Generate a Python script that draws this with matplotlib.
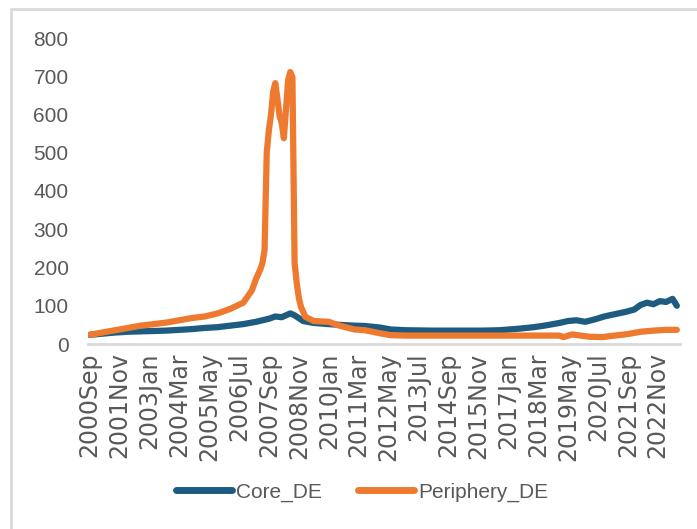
import matplotlib
matplotlib.use("Agg")
import matplotlib.pyplot as plt
import matplotlib.dates as mdates
from matplotlib.patches import Rectangle
import pandas as pd

# values (monthly, approximate)
core_dates = ["2000-09", "2001-03", "2001-09", "2002-03", "2002-09", "2003-03", "2003-09",
              "2004-03", "2004-09", "2005-03", "2005-09", "2006-03", "2006-09", "2007-03",
              "2007-09", "2007-12", "2008-03", "2008-07", "2008-09", "2009-01", "2009-06",
              "2010-01", "2010-06", "2011-01", "2011-06", "2012-01", "2012-06", "2013-01",
              "2014-01", "2015-01", "2016-01", "2016-09", "2017-06", "2018-01", "2018-06",
              "2019-01", "2019-05", "2019-09", "2020-01", "2020-06", "2020-10", "2021-03",
              "2021-08", "2021-12", "2022-03", "2022-06", "2022-09", "2022-12", "2023-03",
              "2023-06", "2023-08"]
core_vals = [24, 27, 30, 32, 33, 34, 35,
             37, 39, 42, 44, 48, 52, 58,
             66, 72, 70, 80, 75, 60, 55,
             52, 50, 48, 47, 43, 38, 36,
             35, 35, 35, 36, 40, 44, 48,
             55, 60, 62, 58, 65, 72, 78,
             84, 90, 102, 108, 104, 112, 110,
             118, 100]

periph_dates = ["2000-09", "2001-03", "2001-09", "2002-03", "2002-09", "2003-03", "2003-09",
                "2004-03", "2004-09", "2005-03", "2005-09", "2006-03", "2006-09", "2007-01",
                "2007-03", "2007-05", "2007-06", "2007-07", "2007-08", "2007-09", "2007-10",
                "2007-11", "2007-12", "2008-01", "2008-02", "2008-03", "2008-04", "2008-05",
                "2008-06", "2008-07", "2008-08", "2008-09", "2008-10", "2008-11", "2008-12",
                "2009-02", "2009-06", "2010-01", "2010-06", "2011-01", "2011-06", "2012-01",
                "2012-06", "2013-01", "2014-06", "2016-01", "2017-06", "2019-01", "2019-03",
                "2019-07", "2019-11", "2020-03", "2020-09", "2021-03", "2021-09", "2022-03",
                "2022-09", "2023-03", "2023-08"]
periph_vals = [24, 30, 36, 42, 48, 52, 56,
               62, 68, 72, 80, 92, 108, 140,
               170, 195, 212, 246, 500, 560, 600,
               660, 682, 640, 595, 578, 538, 612,
               690, 711, 698, 212, 160, 120, 97,
               71, 60, 58, 48, 38, 36, 28,
               23, 22, 22, 22, 22, 22, 18,
               25, 22, 19, 18, 22, 26, 32,
               35, 37, 37]

tick_labels = ["2000Sep", "2001Nov", "2003Jan", "2004Mar", "2005May", "2006Jul", "2007Sep",
               "2008Nov", "2010Jan", "2011Mar", "2012May", "2013Jul", "2014Sep", "2015Nov",
               "2017Jan", "2018Mar", "2019May", "2020Jul", "2021Sep", "2022Nov"]
y_ticks = [0, 100, 200, 300, 400, 500, 600, 700, 800]

CORE_COLOR = "#1D5C80"
PERIPH_COLOR = "#EE7A30"
TEXT_COLOR = "#595959"

plt.rcParams["font.family"] = ["Liberation Sans", "DejaVu Sans"]

fig = plt.figure(figsize=(6.97, 5.29), dpi=100)
fig.patch.set_facecolor("white")
# light frame of the original chart area (cropped at right and bottom)
fig.add_artist(Rectangle((11 / 697, -0.1), 1.2, 1 - 9 / 529 + 0.1, transform=fig.transFigure,
                         fill=False, edgecolor="#d9d9d9", linewidth=2))

ax = fig.add_axes([88 / 697, 1 - 344 / 529, (680 - 88) / 697, (344 - 38) / 529])

core_x = pd.to_datetime(core_dates, format="%Y-%m")
periph_x = pd.to_datetime(periph_dates, format="%Y-%m")
ax.plot(core_x, core_vals, color=CORE_COLOR, lw=4.5, solid_capstyle="round",
        solid_joinstyle="round", label="Core_DE")
ax.plot(periph_x, periph_vals, color=PERIPH_COLOR, lw=4.5, solid_capstyle="round",
        solid_joinstyle="round", label="Periphery_DE")

ax.set_ylim(0, 800)
ax.set_yticks(y_ticks)
ax.set_xlim(pd.Timestamp("2000-08-10"), pd.Timestamp("2023-09-15"))
tick_pos = pd.to_datetime(tick_labels, format="%Y%b")
ax.set_xticks(mdates.date2num(tick_pos))
ax.set_xticklabels(tick_labels, rotation=90, fontsize=17, color=TEXT_COLOR,
                   family=["DejaVu Sans"])
ax.tick_params(axis="y", labelsize=15, labelcolor=TEXT_COLOR, length=0, pad=14)
ax.tick_params(axis="x", length=0, pad=6)

for s in ["top", "right", "left"]:
    ax.spines[s].set_visible(False)
ax.spines["bottom"].set_color("#d9d9d9")
ax.spines["bottom"].set_linewidth(2)

fig.legend(loc="center", bbox_to_anchor=(362 / 697, 1 - 492 / 529), ncol=2, frameon=False,
           fontsize=15, handlelength=2.7, handletextpad=0.2, columnspacing=1.7,
           labelcolor=TEXT_COLOR)
for line in fig.legends[0].get_lines():
    line.set_linewidth(5)

fig.savefig("out.png", dpi=100)
